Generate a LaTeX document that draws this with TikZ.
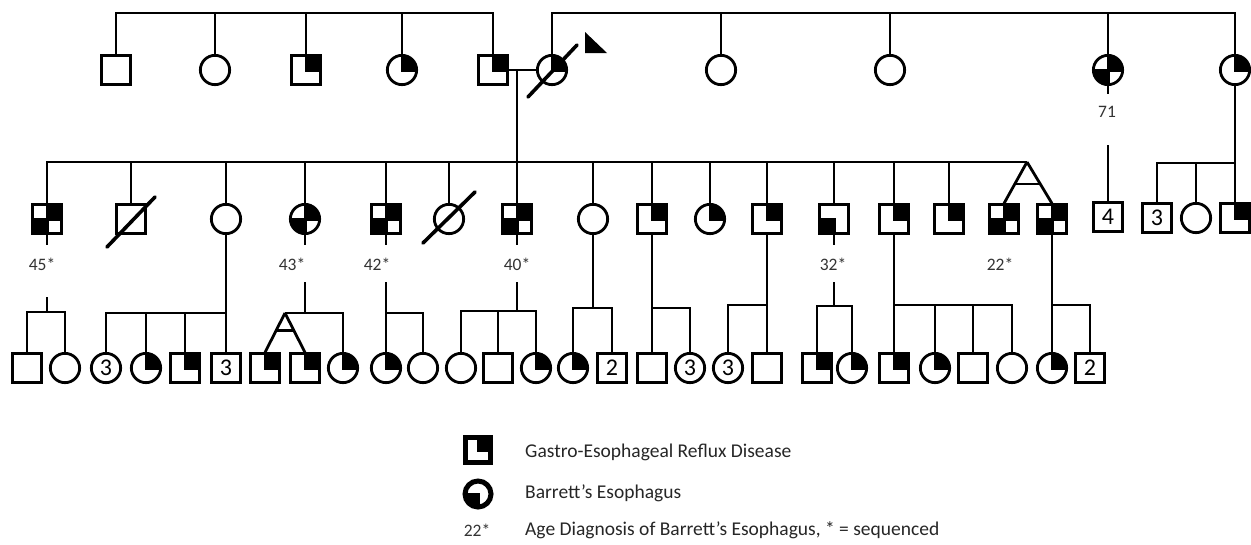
\documentclass[tikz,border=0pt]{standalone}
\usepackage{fontspec}
\setmainfont{Carlito}
\begin{document}
\begin{tikzpicture}[x=1pt,y=-1pt,
 person/.style={draw, line width=2.8pt, inner sep=0pt, fill=white},
 sq/.style={person, rectangle, minimum size=28.3pt},
 ci/.style={person, circle, minimum size=29.3pt},
 tr/.style={path picture={\fill[black] ([shift={(-1.5pt,-1.5pt)}]path picture bounding box.center) rectangle (path picture bounding box.north east);}},
 bl/.style={path picture={\fill[black] ([shift={(1.5pt,1.5pt)}]path picture bounding box.center) rectangle (path picture bounding box.south west);}},
 both/.style={path picture={\fill[black] ([shift={(-1.5pt,-1.5pt)}]path picture bounding box.center) rectangle (path picture bounding box.north east);
   \fill[black] ([shift={(1.5pt,1.5pt)}]path picture bounding box.center) rectangle (path picture bounding box.south west);}},
 num/.style={font=\fontsize{24}{24}\selectfont},
 age/.style={font=\fontsize{17.5}{17.5}\selectfont, text=black!80, inner sep=0pt},
 legtext/.style={font=\fontsize{19.5}{19.5}\selectfont, text=black!85, anchor=west, inner sep=0pt},
 ln/.style={line width=2.8pt},
 dead/.style={line width=3.6pt, line cap=round}]
\useasboundingbox (0,0) rectangle (1251,544);

% ---------------- Generation I
\node[sq] (a1) at (116,70) {};
\node[ci] (a2) at (215,70) {};
\node[sq,tr] (a3) at (306,70) {};
\node[ci,tr] (a4) at (402,70) {};
\node[sq,tr] (a5) at (493,70) {};
\node[ci,tr] (a6) at (552,70) {};
\node[ci] (a7) at (721,70) {};
\node[ci] (a8) at (890,70) {};
\node[ci,both] (a9) at (1108,70) {};
\node[ci,tr] (a10) at (1235,70) {};
\node[age] (l71) at (1107,112) {71};

\coordinate (t1) at (300,13);
\coordinate (t2) at (900,13);
\draw[ln] (a1.north) |- (t1) -| (a5.north);
\foreach \n in {a2,a3,a4} \draw[ln] (\n.north) -- (\n.north |- t1);
\draw[ln] (a6.north) |- (t2) -| (a10.north);
\foreach \n in {a7,a8,a9} \draw[ln] (\n.north) -- (\n.north |- t2);
\draw[ln] (a5.east) -- (a6.west);
\coordinate (m) at (517,70);
% deceased + proband
\draw[dead] ([shift={(-24,27)}]a6.center) -- ([shift={(25,-25)}]a6.center);
\fill (585,32) -- (585,53) -- (607,53) -- cycle;

% ---------------- Generation II
\node[sq,both] (b1) at (47,219) {};
\node[sq] (b2) at (131,219) {};
\node[ci] (b3) at (226,219) {};
\node[ci,both] (b4) at (305,219) {};
\node[sq,both] (b5) at (386,219) {};
\node[ci] (b6) at (449,219) {};
\node[sq,both] (b7) at (517,219) {};
\node[ci] (b8) at (593,219) {};
\node[sq,tr] (b9) at (652,219) {};
\node[ci,tr] (b10) at (710,219) {};
\node[sq,tr] (b11) at (767,219) {};
\node[sq,bl] (b12) at (834,219) {};
\node[sq,tr] (b13) at (894,219) {};
\node[sq,tr] (b14) at (949,219) {};
\node[sq,both] (b15) at (1004,219) {};
\node[sq,both] (b16) at (1052,219) {};
\node[sq,num] (b17) at (1108,217) {4};
\node[sq,num] (b18) at (1157,218) {3};
\node[ci] (b19) at (1196,218) {};
\node[sq,tr] (b20) at (1235,218) {};

\node[age] (l45) at (42,264) {45*};
\node[age] (l43) at (292,264) {43*};
\node[age] (l42) at (377,264) {42*};
\node[age] (l40) at (517,264) {40*};
\node[age] (l32) at (833,264) {32*};
\node[age] (l22) at (1000,264) {22*};

\draw[dead] ([shift={(-24,28)}]b2.center) -- ([shift={(24,-22)}]b2.center);
\draw[dead] ([shift={(-26,24)}]b6.center) -- ([shift={(26,-27)}]b6.center);

\coordinate (tw) at (1027,162);
\draw[ln] (b1.north) |- (tw);
\foreach \n in {b2,b3,b4,b5,b6,b8,b9,b10,b11,b12,b13,b14} \draw[ln] (\n.north) -- (\n.north |- tw);
\draw[ln] (m) -- (b7.north);
\draw[ln] (tw) -- (b15.north);
\draw[ln] (tw) -- (b16.north);
\path (tw) -- (b15.north) coordinate[pos=0.53] (twa);
\path (tw) -- (b16.north) coordinate[pos=0.53] (twb);
\draw[ln] (twa) -- (twb);

\draw[ln] (a9.south) -- ++(0,8);
\coordinate (k71) at (1108,145);
\draw[ln] (k71) -- (b17.north);
\coordinate (g20) at (1235,163);
\draw[ln] (a10.south) -- (b20.north);
\draw[ln] (b18.north) |- (g20);
\draw[ln] (b19.north) -- (b19.north |- g20);

% ---------------- Generation III
\node[sq] (c1) at (27,368) {};
\node[ci] (c2) at (65,368) {};
\node[ci,num] (c3) at (106,368) {3};
\node[ci,tr] (c4) at (146,368) {};
\node[sq,tr] (c5) at (185,368) {};
\node[sq,num] (c6) at (226,368) {3};
\node[sq,tr] (c7) at (265,368) {};
\node[sq,tr] (c8) at (305,368) {};
\node[ci,tr] (c9) at (343,368) {};
\node[ci,tr] (c10) at (386,368) {};
\node[ci] (c11) at (423,368) {};
\node[ci] (c12) at (461,368) {};
\node[sq] (c13) at (498,368) {};
\node[ci,tr] (c14) at (536,368) {};
\node[ci,tr] (c15) at (573,368) {};
\node[sq,num] (c16) at (612,368) {2};
\node[sq] (c17) at (652,368) {};
\node[ci,num] (c18) at (690,368) {3};
\node[ci,num] (c19) at (728,368) {3};
\node[sq] (c20) at (767,368) {};
\node[sq,tr] (c21) at (817,368) {};
\node[ci,tr] (c22) at (852,368) {};
\node[sq,tr] (c23) at (894,368) {};
\node[ci,tr] (c24) at (935,368) {};
\node[sq] (c25) at (973,368) {};
\node[ci] (c26) at (1012,368) {};
\node[ci,tr] (c27) at (1052,368) {};
\node[sq,num] (c28) at (1090,368) {2};

% family of b1
\draw[ln] (b1.south) -- ++(0,10);
\coordinate (j1) at (47,297);
\coordinate (g1) at (47,312);
\draw[ln] (j1) -- (g1);
\draw[ln] (c1.north) |- (g1) -| (c2.north);
% family of b3
\coordinate (g3) at (226,313);
\draw[ln] (b3.south) -- (c6.north);
\draw[ln] (c3.north) |- (g3);
\foreach \n in {c4,c5} \draw[ln] (\n.north) -- (\n.north |- g3);
% family of b4
\draw[ln] (b4.south) -- ++(0,10);
\coordinate (j4) at (305,282);
\coordinate (g4) at (305,313);
\coordinate (tw2) at (285,313);
\draw[ln] (j4) -- (g4);
\draw[ln] (tw2) -| (c9.north);
\draw[ln] (tw2) -- (c7.north);
\draw[ln] (tw2) -- (c8.north);
\path (tw2) -- (c7.north) coordinate[pos=0.45] (twc);
\path (tw2) -- (c8.north) coordinate[pos=0.45] (twd);
\draw[ln] (twc) -- (twd);
% family of b5
\draw[ln] (b5.south) -- ++(0,10);
\coordinate (j5) at (386,282);
\coordinate (g5) at (386,313);
\draw[ln] (j5) -- (c10.north);
\draw[ln] (g5) -| (c11.north);
% family of b7
\draw[ln] (b7.south) -- ++(0,10);
\coordinate (j7) at (517,282);
\coordinate (g7) at (517,311);
\draw[ln] (j7) -- (g7);
\draw[ln] (c12.north) |- (g7) -| (c14.north);
\draw[ln] (c13.north) -- (c13.north |- g7);
% family of b8
\coordinate (g8) at (593,308);
\draw[ln] (b8.south) -- (g8);
\draw[ln] (c15.north) |- (g8) -| (c16.north);
% family of b9
\coordinate (g9) at (652,308);
\draw[ln] (b9.south) -- (c17.north);
\draw[ln] (g9) -| (c18.north);
% family of b11
\coordinate (g11) at (767,305);
\draw[ln] (b11.south) -- (c20.north);
\draw[ln] (g11) -| (c19.north);
% family of b12
\draw[ln] (b12.south) -- ++(0,10);
\coordinate (j12) at (834,282);
\coordinate (g12) at (834,306);
\draw[ln] (j12) -- (g12);
\draw[ln] (c21.north) |- (g12) -| (c22.north);
% family of b13
\coordinate (g13) at (894,305);
\draw[ln] (b13.south) -- (c23.north);
\draw[ln] (g13) -| (c26.north);
\foreach \n in {c24,c25} \draw[ln] (\n.north) -- (\n.north |- g13);
% family of b16
\coordinate (g16) at (1052,305);
\draw[ln] (b16.south) -- (c27.north);
\draw[ln] (g16) -| (c28.north);

% ---------------- Legend
\node[sq, line width=5pt, minimum size=25pt, tr] (lg1) at (478,450) {};
\node[ci, line width=5pt, minimum size=26pt, bl] (lg2) at (478,494) {};
\node[age] (lg3) at (477,530) {22*};
\node[legtext] (lt1) at (525,452) {Gastro-Esophageal Reflux Disease};
\node[legtext] (lt2) at (525,493) {Barrett’s Esophagus};
\node[legtext] (lt3) at (525,530) {Age Diagnosis of Barrett’s Esophagus, * = sequenced};
\end{tikzpicture}
\end{document}
